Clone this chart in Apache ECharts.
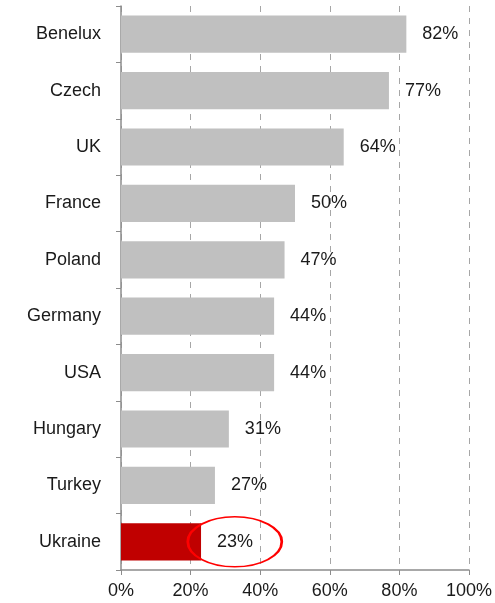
<!DOCTYPE html>
<html>
<head>
<meta charset="utf-8">
<script src="https://cdn.jsdelivr.net/npm/echarts@6/dist/echarts.min.js"></script>
<style>
  html, body { margin: 0; padding: 0; background: #fff; }
  #chart { width: 495px; height: 603px; }
</style>
</head>
<body>
<div id="chart"></div>
<script>
  const categories = ['Benelux', 'Czech', 'UK', 'France', 'Poland', 'Germany', 'USA', 'Hungary', 'Turkey', 'Ukraine']
  const values = [82, 77, 64, 50, 47, 44, 44, 31, 27, 23]
  const highlight = 'Ukraine'
  const xTicks = [0, 20, 40, 60, 80, 100]
  // annotation ellipse around the highlighted label, in data coords
  const circleAt = [32.7, 'Ukraine']

  const font = 'Liberation Sans, Arial, sans-serif'
  const chart = echarts.init(document.getElementById('chart'))
  chart.setOption({
    animation: false,
    backgroundColor: '#fff',
    grid: { left: 121, right: 25, top: 6, bottom: 33 },
    xAxis: {
      type: 'value',
      min: xTicks[0],
      max: xTicks[xTicks.length - 1],
      interval: 20,
      axisLine: { show: true, lineStyle: { color: '#8c8c8c', width: 1.5 } },
      axisTick: { show: true, length: 5, lineStyle: { color: '#8c8c8c' } },
      axisLabel: {
        margin: 12,
        color: '#1a1a1a',
        fontFamily: font,
        fontSize: 18,
        formatter: v => v + '%'
      },
      splitLine: { show: true, lineStyle: { color: '#a6a6a6', type: [6, 6], width: 1 } }
    },
    yAxis: {
      type: 'category',
      inverse: true,
      data: categories,
      axisLine: { show: true, lineStyle: { color: '#8c8c8c', width: 1.5 } },
      axisTick: { show: true, length: 5, lineStyle: { color: '#8c8c8c' } },
      axisLabel: {
        margin: 20,
        color: '#1a1a1a',
        fontFamily: font,
        fontSize: 18
      }
    },
    series: [{
      type: 'bar',
      barCategoryGap: '34%',
      data: values.map((v, i) => ({
        value: v,
        itemStyle: { color: categories[i] === highlight ? '#c00000' : '#c0c0c0' }
      })),
      label: {
        show: true,
        position: 'right',
        distance: 16,
        color: '#1a1a1a',
        fontFamily: font,
        fontSize: 18,
        formatter: p => p.value + '%'
      },
      markPoint: {
        symbol: 'circle',
        symbolSize: [94, 50],
        silent: true,
        itemStyle: { color: 'rgba(0,0,0,0)', borderColor: '#ff0000', borderWidth: 2 },
        label: { show: false },
        data: [{ coord: circleAt }]
      }
    }]
  })
</script>
</body>
</html>
